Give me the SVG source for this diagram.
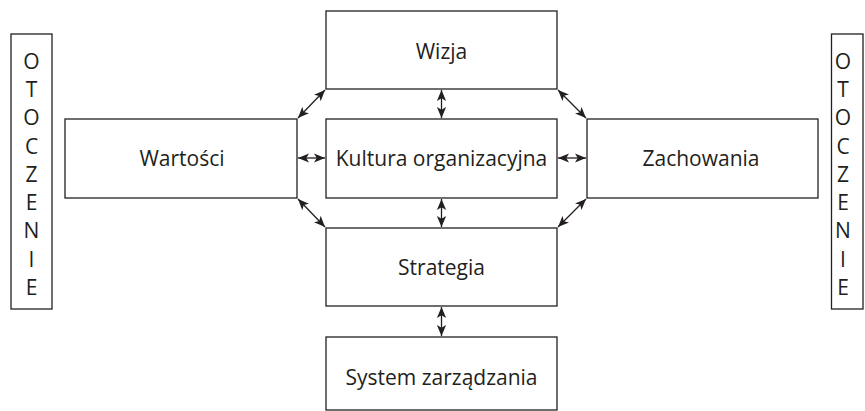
<svg xmlns="http://www.w3.org/2000/svg" width="865" height="411" viewBox="0 0 865 411">
<style>
.box{fill:#fff;stroke:#231f20;stroke-width:1.3}
.t{font-family:"Open Sans","Liberation Sans",sans-serif;font-size:21px;fill:#231f20;text-anchor:middle;dominant-baseline:central}
.v{font-family:"Open Sans","Liberation Sans",sans-serif;font-size:21px;fill:#231f20;text-anchor:middle;dominant-baseline:central}
.c{stroke:#231f20;stroke-width:1.3;fill:none;marker-start:url(#a);marker-end:url(#a)}
</style>
<defs>
<marker id="a" viewBox="0 0 10 10" refX="10" refY="5" markerWidth="11" markerHeight="11" markerUnits="userSpaceOnUse" orient="auto-start-reverse">
<path d="M0,0.8 L10,5 L0,9.2 L2.5,5 Z" fill="#231f20"/>
</marker>
</defs>
<rect width="865" height="411" fill="#fff"/>
<g id="connectors">
<line class="c" x1="441.5" y1="90" x2="441.5" y2="118"/>
<line class="c" x1="441.5" y1="199" x2="441.5" y2="227"/>
<line class="c" x1="441.5" y1="307" x2="441.5" y2="336"/>
<line class="c" x1="298" y1="158" x2="325" y2="158"/>
<line class="c" x1="558" y1="158" x2="586" y2="158"/>
<line class="c" x1="325" y1="90" x2="298" y2="118"/>
<line class="c" x1="558" y1="90" x2="586" y2="118"/>
<line class="c" x1="298" y1="199" x2="325" y2="227"/>
<line class="c" x1="586" y1="199" x2="558" y2="227"/>
</g>
<g id="otoczenie-left">
<rect class="box" x="11" y="34" width="41" height="275"/>
<text class="v" x="31.5" y="61">O</text>
<text class="v" x="31.5" y="89">T</text>
<text class="v" x="31.5" y="117">O</text>
<text class="v" x="31.5" y="146">C</text>
<text class="v" x="31.5" y="174">Z</text>
<text class="v" x="31.5" y="202">E</text>
<text class="v" x="31.5" y="230">N</text>
<text class="v" x="31.5" y="259">I</text>
<text class="v" x="31.5" y="287">E</text>
</g>
<g id="otoczenie-right">
<rect class="box" x="831.5" y="34" width="31.5" height="275"/>
<text class="v" x="843" y="61">O</text>
<text class="v" x="843" y="89">T</text>
<text class="v" x="843" y="117">O</text>
<text class="v" x="843" y="146">C</text>
<text class="v" x="843" y="174">Z</text>
<text class="v" x="843" y="202">E</text>
<text class="v" x="843" y="230">N</text>
<text class="v" x="843" y="259">I</text>
<text class="v" x="843" y="287">E</text>
</g>
<g id="wizja">
<rect class="box" x="326" y="11" width="231" height="78"/>
<text class="t" x="441.5" y="51">Wizja</text>
</g>
<g id="wartosci">
<rect class="box" x="65" y="119" width="232" height="79"/>
<text class="t" x="182" y="158">Wartości</text>
</g>
<g id="kultura">
<rect class="box" x="326" y="119" width="231" height="79"/>
<text class="t" x="441.5" y="158">Kultura organizacyjna</text>
</g>
<g id="zachowania">
<rect class="box" x="587" y="119" width="231" height="79"/>
<text class="t" x="701" y="158">Zachowania</text>
</g>
<g id="strategia">
<rect class="box" x="326" y="228" width="231" height="78"/>
<text class="t" x="441.5" y="267">Strategia</text>
</g>
<g id="system">
<rect class="box" x="326" y="337" width="231" height="73"/>
<text class="t" x="441.5" y="377">System zarządzania</text>
</g>
</svg>
